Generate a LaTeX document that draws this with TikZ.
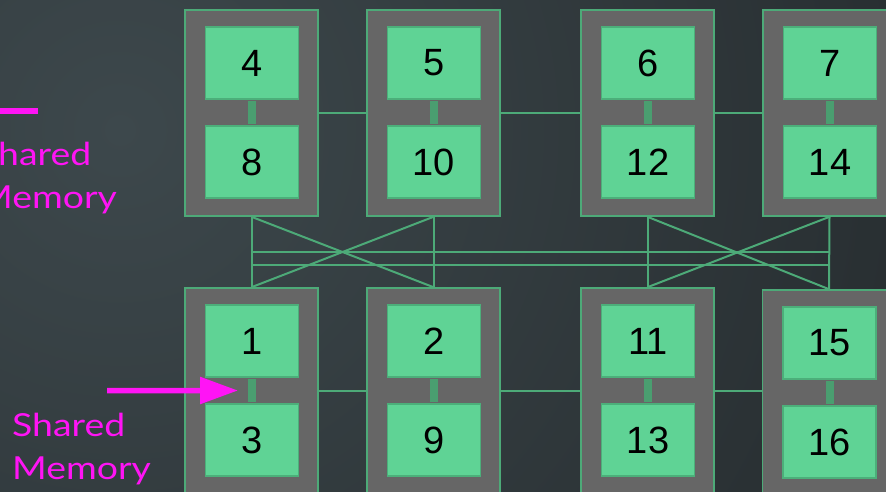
\documentclass[tikz,border=0pt]{standalone}
\usepackage{fontspec}
\setmainfont{Liberation Sans}
\newfontfamily\notefont[FakeStretch=1.18]{Lato}
\usetikzlibrary{arrows.meta,calc}

\definecolor{bgLight}{HTML}{3D484C}
\definecolor{bgDark}{HTML}{131517}
\definecolor{unitgray}{HTML}{666666}
\definecolor{wire}{HTML}{4DAA78}
\definecolor{cellgreen}{HTML}{5FD395}
\definecolor{celledge}{HTML}{4CAF7A}
\definecolor{bridge}{HTML}{4A9E70}
\definecolor{accent}{HTML}{FF14F5}

\pgfdeclarelayer{backdrop}
\pgfdeclarelayer{wires}
\pgfsetlayers{backdrop,wires,main}

\tikzset{
  unitbox/.style={draw=wire, fill=unitgray, line width=1.6pt,
    minimum width=133pt, minimum height=206pt, inner sep=0pt},
  cell/.style={draw=celledge, fill=cellgreen, line width=1.6pt,
    minimum width=93pt, minimum height=72.5pt, inner sep=0pt,
    text=black, font=\fontsize{38}{38}\selectfont},
  wireline/.style={draw=wire, line width=2pt},
  bridgeline/.style={draw=bridge, line width=8pt,
    shorten <=0.8pt, shorten >=0.8pt},
  note/.style={text=accent, inner sep=0pt, anchor=base west,
    font=\notefont\fontsize{31.7}{43}\selectfont},
  pointer/.style={draw=accent, line width=5.5pt,
    -{Triangle[length=38pt,width=26pt]}},
}

\begin{document}
\begin{tikzpicture}[x=1pt, y=-1pt]
  \useasboundingbox (0,0) rectangle (886,491);
  \clip (0,0) rectangle (886,491);

  % dark backdrop, lighter towards the upper left
  \begin{pgfonlayer}{backdrop}
    \shade[inner color=bgLight, outer color=bgDark]
      (120,130) circle[radius=1600pt];
  \end{pgfonlayer}

  % processing units, each with two cells joined by shared memory
  \foreach \n/\x/\y/\t/\b in {
      A/251.5/113/4/8, B/433.5/113/5/10, C/647.5/113/6/12, D/829.5/113/7/14,
      E/251.5/391/1/3, F/433.5/391/2/9, G/647.5/391/11/13, H/829/393/15/16} {
    \node[unitbox] (u\n) at (\x,\y) {};
    \node[cell] (t\n) at ($(u\n)+(0.5,-50)$) {\t};
    \node[cell] (b\n) at ($(u\n)+(0.5,49)$) {\b};
    \draw[bridgeline] (t\n.south) -- (b\n.north);
  }

  % interconnect between the units
  \begin{pgfonlayer}{wires}
    \draw[wireline] (uA.east) -- (uB.west);
    \draw[wireline] (uB.east) -- (uC.west);
    \draw[wireline] (uC.east) -- (uD.west);
    \draw[wireline] (uE.east) -- (uF.west);
    \draw[wireline] (uF.east) -- (uG.west);
    \draw[wireline] (uG.east) -- (uG.east -| uH.west);

    \draw[wireline] (uA.south) -- (uE.north);
    \draw[wireline] (uB.south) -- (uF.north);
    \draw[wireline] (uC.south) -- (uG.north);
    \draw[wireline] (uD.south) -- (uH.north);
    \draw[wireline] (uA.south) -- (uF.north);
    \draw[wireline] (uB.south) -- (uE.north);
    \draw[wireline] (uC.south) -- (uH.north);
    \draw[wireline] (uD.south) -- (uG.north);

    \path (uA.south) -- (uE.north)
      coordinate[pos=0.5] (busHi) coordinate[pos=0.69] (busLo);
    \draw[wireline] (busHi) -- (busHi -| uD.south);
    \draw[wireline] (busLo) -- (busLo -| uD.south);
  \end{pgfonlayer}

  % shared memory labels
  \node[note] (topNoteA) at (-22,165) {Shared};
  \node[note] (topNoteB) at (-22,208.3) {Memory};
  \coordinate (topBarL) at (-5,110.5);
  \coordinate (topBarR) at (38,110.5);
  \draw[draw=accent, line width=6pt] (topBarL) -- (topBarR);

  \node[note] (botNoteA) at (12,436) {Shared};
  \node[note] (botNoteB) at (12,479.3) {Memory};
  \coordinate (arrowTail) at (107,390.5);
  \coordinate (arrowTip) at ($(tE.south)!0.5!(bE.north)+(-14,0)$);
  \draw[pointer] (arrowTail) -- (arrowTip);
\end{tikzpicture}
\end{document}
